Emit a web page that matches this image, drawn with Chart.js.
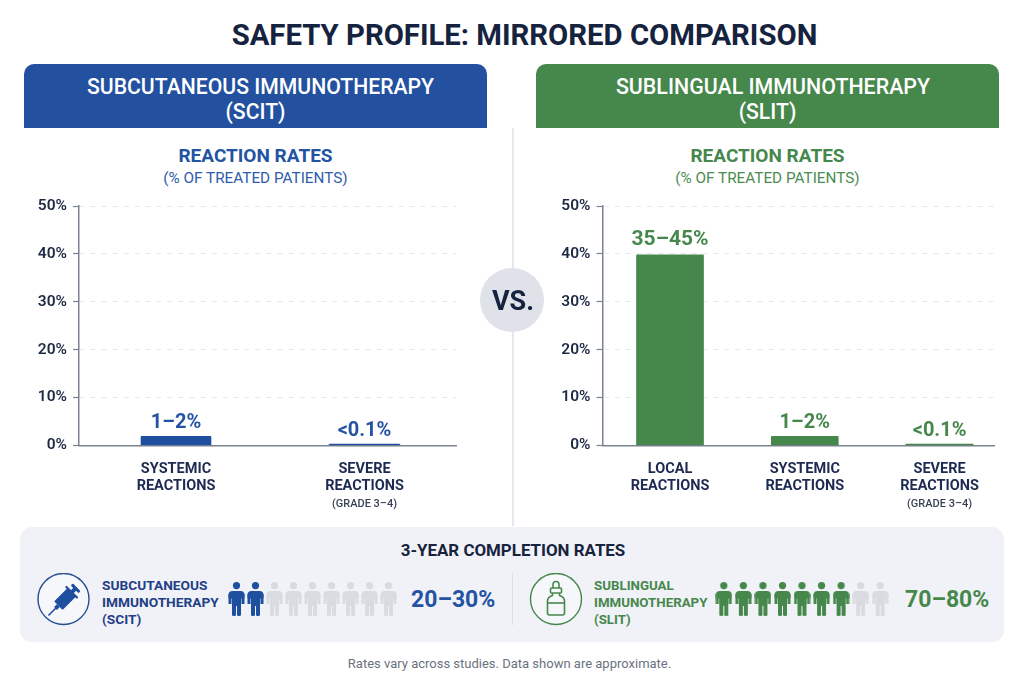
<!DOCTYPE html>
<html><head><meta charset="utf-8">
<style>
*{box-sizing:border-box}
html,body{margin:0;padding:0;background:#fff;width:1024px;height:681px;overflow:hidden;font-family:Roboto,sans-serif}
.a{position:absolute}
.t{position:absolute;text-align:center;white-space:nowrap;transform:translateY(-50%)}
canvas{display:block}
</style></head><body>
<div class="t" style="left:0;width:1049px;top:34.500px;font-size:29.3px;font-weight:700;color:#16233f">SAFETY PROFILE: MIRRORED COMPARISON</div>

<div class="a" style="left:24px;top:64px;width:463px;height:64px;background:#2351a0;border-radius:10px 10px 0 0"></div>
<div class="a" style="left:536px;top:64px;width:463px;height:64px;background:#46874c;border-radius:10px 10px 0 0"></div>
<div class="t" style="left:24px;width:473px;top:86px;font-size:21.200px;font-weight:500;color:#fff">SUBCUTANEOUS IMMUNOTHERAPY</div>
<div class="t" style="left:24px;width:463px;top:111px;font-size:21.200px;font-weight:500;color:#fff">(SCIT)</div>
<div class="t" style="left:536px;width:474px;top:86px;font-size:21.400px;font-weight:500;color:#fff">SUBLINGUAL IMMUNOTHERAPY</div>
<div class="t" style="left:536px;width:463px;top:111px;font-size:21.200px;font-weight:500;color:#fff">(SLIT)</div>

<div class="a" style="left:512px;top:128px;width:1.5px;height:398px;background:#e6e8ef"></div>

<div class="t" style="left:24px;width:463px;top:155px;font-size:19px;font-weight:700;color:#2453a4">REACTION RATES</div>
<div class="t" style="left:24px;width:463px;top:178px;font-size:15.300px;font-weight:400;color:#2f5cab">(% OF TREATED PATIENTS)</div>
<div class="t" style="left:536px;width:463px;top:155px;font-size:19px;font-weight:700;color:#46874c">REACTION RATES</div>
<div class="t" style="left:536px;width:463px;top:178px;font-size:15.300px;font-weight:400;color:#4b8c51">(% OF TREATED PATIENTS)</div>

<div class="a" style="left:20px;top:190px;width:470px;height:332px"><canvas id="c1" width="470" height="332"></canvas></div>
<div class="a" style="left:530px;top:190px;width:474px;height:332px"><canvas id="c2" width="474" height="332"></canvas></div>

<div class="a" style="left:480px;top:268px;width:64px;height:64px;border-radius:50%;background:#dfe2e9"></div>
<div class="t" style="left:481px;width:64px;top:301px;font-size:27px;font-weight:700;color:#16233f">VS.</div>

<div class="a" style="left:20px;top:527px;width:984px;height:115px;border-radius:12px;background:#f1f2f7"></div>
<div class="t" style="left:21px;width:984px;top:550px;font-size:16.900px;font-weight:700;color:#16233f">3-YEAR COMPLETION RATES</div>
<div class="a" style="left:512px;top:573px;width:1px;height:52px;background:#dcdfe6"></div>

<svg class="a" style="left:37px;top:573px" width="54" height="54" viewBox="0 0 54 54">
 <circle cx="26.500" cy="26" r="25.500" fill="#f6f7fa" stroke="#264f94" stroke-width="1.4"/>
 <g transform="rotate(45 27 27)" fill="#1f4e9e">
  <rect x="21.500" y="9" width="11" height="3" rx="1"/><rect x="25" y="11" width="4" height="5"/>
  <rect x="21" y="16" width="12" height="19" rx="1"/><rect x="18.500" y="15" width="17" height="2.200" rx="1"/>
  <rect x="25" y="35" width="4" height="4"/><rect x="26.200" y="38" width="1.600" height="11"/>
 </g>
</svg>
<svg class="a" style="left:529px;top:573px" width="54" height="54" viewBox="0 0 54 54">
 <circle cx="27" cy="26" r="25.500" fill="#f6f7fa" stroke="#46874c" stroke-width="1.4"/>
 <g fill="none" stroke="#46874c" stroke-width="1.600" stroke-linejoin="round">
  <path d="M24 15v-3.500a3 3 0 0 1 6 0V15"/><rect x="21.500" y="15" width="11" height="5" rx="1"/>
  <path d="M23.500 20v2.500c-3 1-5 3-5 5.500v12a2 2 0 0 0 2 2h13a2 2 0 0 0 2-2V28c0-2.500-2-4.500-5-5.500V20"/>
  <path d="M18.500 30H35.500"/>
 </g>
</svg>

<div class="t" style="left:102px;top:585px;font-size:13.700px;font-weight:700;color:#1f3f86;text-align:left">SUBCUTANEOUS</div>
<div class="t" style="left:102px;top:602px;font-size:13.700px;font-weight:700;color:#1f3f86;text-align:left">IMMUNOTHERAPY</div>
<div class="t" style="left:102px;top:619px;font-size:13.700px;font-weight:700;color:#1f3f86;text-align:left">(SCIT)</div>
<div class="t" style="left:594px;top:585px;font-size:13.300px;font-weight:700;color:#46874c;text-align:left">SUBLINGUAL</div>
<div class="t" style="left:594px;top:602px;font-size:13.300px;font-weight:700;color:#46874c;text-align:left">IMMUNOTHERAPY</div>
<div class="t" style="left:594px;top:619px;font-size:13.300px;font-weight:700;color:#46874c;text-align:left">(SLIT)</div>

<div class="a" style="left:226px;top:578px;width:173px;height:42px"><canvas id="p1" width="173" height="42"></canvas></div>
<div class="a" style="left:713px;top:578px;width:178px;height:42px"><canvas id="p2" width="178" height="42"></canvas></div>

<div class="t" style="left:411px;top:599px;font-size:23px;font-weight:700;color:#2453a4">20–30%</div>
<div class="t" style="left:905px;top:599px;font-size:23px;font-weight:700;color:#46874c">70–80%</div>

<div class="t" style="left:0;width:1019px;top:663px;font-size:13px;color:#6b7280">Rates vary across studies. Data shown are approximate.</div>

<script src="https://cdn.jsdelivr.net/npm/chart.js@4"></script>
<script>
const yTicks = [0, 10, 20, 30, 40, 50];
const scitCategories = [["SYSTEMIC", "REACTIONS"], ["SEVERE", "REACTIONS"]];
const scitValues = [1.9, 0.3];
const scitLabels = ["1–2%", "<0.1%"];
const scitNotes = ["", "(GRADE 3–4)"];
const slitCategories = [["LOCAL", "REACTIONS"], ["SYSTEMIC", "REACTIONS"], ["SEVERE", "REACTIONS"]];
const slitValues = [39.8, 1.9, 0.3];
const slitLabels = ["35–45%", "1–2%", "<0.1%"];
const slitNotes = ["", "", "(GRADE 3–4)"];
const peopleTotal = 9;
const scitFilled = 2;
const slitFilled = 7;

const FONT = "Roboto, sans-serif";
Chart.defaults.animation = false;
Chart.defaults.responsive = false;
Chart.defaults.devicePixelRatio = 1;

const barText = {
  id: "barText",
  afterDatasetsDraw(chart, _a, o) {
    const { ctx } = chart, meta = chart.getDatasetMeta(0), xs = chart.scales.x;
    ctx.save();
    ctx.textAlign = "center";
    meta.data.forEach((b, i) => {
      const tall = b.base - b.y > 100;
      ctx.fillStyle = o.color;
      ctx.font = "700 " + (tall ? 21 : 20) + "px " + FONT;
      ctx.textBaseline = "alphabetic";
      ctx.fillText(o.labels[i], b.x, b.y - (tall ? 10 : 8.5));
      if (o.notes[i]) {
        ctx.fillStyle = "#3a4258";
        ctx.font = "500 11px " + FONT;
        ctx.textBaseline = "middle";
        ctx.fillText(o.notes[i], xs.getPixelForValue(i), 504.5 - 190);
      }
    });
    ctx.restore();
  }
};

function barChart(id, cats, vals, labels, notes, color, textColor, left, width, min, max, thick) {
  new Chart(document.getElementById(id), {
    type: "bar",
    data: { datasets: [{ data: vals.map((v, i) => ({ x: i, y: v })), backgroundColor: color, barThickness: thick, borderRadius: 1 }] },
    plugins: [barText],
    options: {
      layout: { padding: { top: 16, right: Number(document.getElementById(id).width) - left - width, left: 0, bottom: 0 } },
      plugins: {
        legend: { display: false }, tooltip: { enabled: false },
        barText: { labels, notes, color: textColor }
      },
      scales: {
        x: {
          type: "linear", min, max, offset: false,
          afterBuildTicks: s => { s.ticks = cats.map((_, i) => ({ value: i })); },
          afterFit: s => { s.height = 332 - 16 - 239.5; },
          grid: { display: false },
          border: { display: true, color: "#7b8291", width: 1.5 },
          ticks: {
            autoSkip: false, maxRotation: 0, padding: 7, color: "#1e2a52",
            font: { family: FONT, size: 14.5, weight: "700", lineHeight: 1.21 },
            callback: (v) => cats[v]
          }
        },
        y: {
          min: 0, max: 50,
          afterBuildTicks: s => { s.ticks = yTicks.map(v => ({ value: v })); },
          afterFit: s => { s.width = left; },
          grid: {
            color: c => c.tick && c.tick.value === 0 ? "rgba(0,0,0,0)" : "#e6e8ec",
            tickColor: "#7b8291", tickLength: 6, lineWidth: 1, tickWidth: 1.2,
            tickBorderDash: []
          },
          border: { display: true, color: "#7b8291", width: 1.5, dash: [5, 6] },
          ticks: {
            padding: 6, color: "#1e2a44",
            font: { family: FONT, size: 15.5, weight: "600" },
            callback: v => v + "%"
          }
        }
      }
    }
  });
}
barChart("c1", scitCategories, scitValues, scitLabels, scitNotes, "#1f4f9f", "#2453a4", 59, 377, -0.5146, 1.4854, 70);
barChart("c2", slitCategories, slitValues, slitLabels, slitNotes, "#46874c", "#46874c", 72.5, 391.5, -0.501, 2.404, 67);

function personIcon(color) {
  const c = document.createElement("canvas");
  c.width = 17; c.height = 34;
  const g = c.getContext("2d");
  g.fillStyle = color;
  g.beginPath(); g.arc(8.5, 3.6, 3.6, 0, 7); g.fill();
  g.beginPath();
  g.roundRect(0.5, 9, 16, 7.5, [4, 4, 1, 1]); g.fill();
  g.fillRect(0.5, 12, 3, 10);
  g.fillRect(13.5, 12, 3, 10);
  g.fillRect(4, 12, 9, 12);
  g.beginPath(); g.roundRect(4, 20, 4, 14, 1.5); g.fill();
  g.beginPath(); g.roundRect(9, 20, 4, 14, 1.5); g.fill();
  return c;
}
function people(id, filled, color) {
  const on = personIcon(color), off = personIcon("#d9dbe0");
  const pts = [], styles = [];
  for (let i = 0; i < peopleTotal; i++) { pts.push({ x: i, y: 0 }); styles.push(i < filled ? on : off); }
  new Chart(document.getElementById(id), {
    type: "scatter",
    data: { datasets: [{ data: pts, pointStyle: styles, pointRadius: 10, clip: false }] },
    options: {
      layout: { padding: 0, autoPadding: false },
      plugins: { legend: { display: false }, tooltip: { enabled: false } },
      scales: {
        x: { display: false, min: -0.55, max: peopleTotal - 1 + 0.55 },
        y: { display: false, min: -1, max: 1 }
      }
    }
  });
}
people("p1", scitFilled, "#1f4f9f");
people("p2", slitFilled, "#46874c");
</script>
</body></html>
